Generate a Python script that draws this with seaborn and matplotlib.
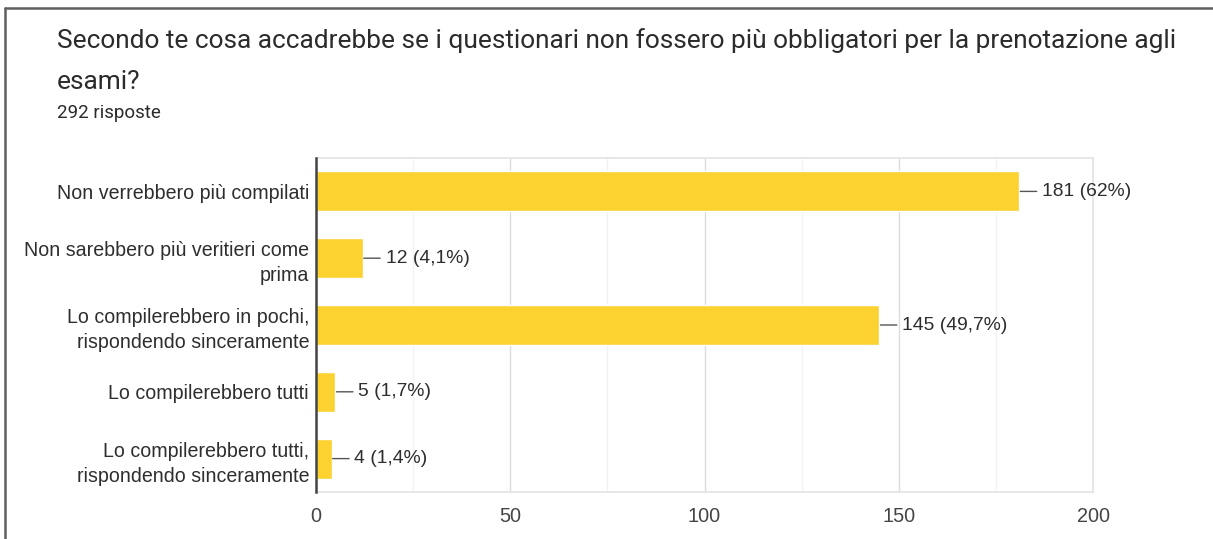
import matplotlib
matplotlib.use("Agg")
import matplotlib.pyplot as plt
from matplotlib.lines import Line2D
from matplotlib.ticker import MultipleLocator
import seaborn as sns
import pandas as pd

title_lines = [
    "Secondo te cosa accadrebbe se i questionari non fossero più obbligatori per la prenotazione agli",
    "esami?",
]
subtitle = "292 risposte"

answers = [
    "Non verrebbero più compilati",
    "Non sarebbero più veritieri come\nprima",
    "Lo compilerebbero in pochi,\nrispondendo sinceramente",
    "Lo compilerebbero tutti",
    "Lo compilerebbero tutti,\nrispondendo sinceramente",
]
counts = [181, 12, 145, 5, 4]
percent_labels = ["62%", "4,1%", "49,7%", "1,7%", "1,4%"]
x_ticks = [0, 50, 100, 150, 200]

bar_color = "#fbd22f"
text_color = "#2e2e2e"

sns.set_theme(style="white")
plt.rcParams["font.family"] = ["Liberation Sans", "DejaVu Sans"]

W, H, DPI = 1213, 539, 100
fig = plt.figure(figsize=(W / DPI, H / DPI), dpi=DPI)
ax = fig.add_axes([316 / W, 1 - 492 / H, (1093 - 316) / W, (492 - 158) / H])

df = pd.DataFrame({"answer": answers, "count": counts})
sns.barplot(data=df, x="count", y="answer", orient="h", color=bar_color,
            saturation=1, width=0.6, ax=ax, zorder=3)

ax.set_xlim(0, 200)
ax.set_xticks(x_ticks)
ax.xaxis.set_minor_locator(MultipleLocator(25))
ax.grid(axis="x", which="major", color="#dcdcdc", linewidth=1, zorder=0)
ax.grid(axis="x", which="minor", color="#f2f2f2", linewidth=1, zorder=0)
ax.set_axisbelow(True)
ax.set_xlabel("")
ax.set_ylabel("")

for side in ("top", "right", "bottom"):
    ax.spines[side].set_color("#e3e3e3")
    ax.spines[side].set_linewidth(1.2)
ax.spines["left"].set_color("#444444")
ax.spines["left"].set_linewidth(1.8)
ax.spines["left"].set_zorder(5)

ax.tick_params(axis="y", length=0, labelsize=14.1, colors=text_color, pad=5)
ax.tick_params(axis="x", length=0, labelsize=14.3, colors="#444444", pad=11)
for lbl in ax.get_yticklabels():
    lbl.set_horizontalalignment("right")
    lbl.set_linespacing(1.4)
    lbl.set_color(text_color)

for i, (c, p) in enumerate(zip(counts, percent_labels)):
    ax.annotate(f"{c} ({p})", xy=(c, i), xytext=(16.5, 0),
                textcoords="offset points", ha="left", va="center",
                fontsize=13.9, color=text_color,
                arrowprops=dict(arrowstyle="-", color="#555555", lw=1,
                                shrinkA=1.5, shrinkB=0.8))

# Title block
title_font = ["Roboto", "DejaVu Sans"]
fig.text(57 / W, 1 - 48 / H, title_lines[0], fontsize=18.9, color="#2b2b2b",
         family=title_font, va="baseline", ha="left")
fig.text(57 / W, 1 - 89 / H, title_lines[1], fontsize=18.9, color="#2b2b2b",
         family=title_font, va="baseline", ha="left")
fig.text(57 / W, 1 - 118 / H, subtitle, fontsize=13.5, color="#2b2b2b",
         family=title_font, va="baseline", ha="left")

# Card border (top and left edges)
fig.add_artist(Line2D([5 / W, 1], [1 - 8 / H, 1 - 8 / H], color="#5f5f5f",
                      linewidth=1.8, transform=fig.transFigure))
fig.add_artist(Line2D([5 / W, 5 / W], [0, 1 - 8 / H], color="#5f5f5f",
                      linewidth=1.8, transform=fig.transFigure))

fig.savefig("out.png", dpi=DPI, facecolor="white")
